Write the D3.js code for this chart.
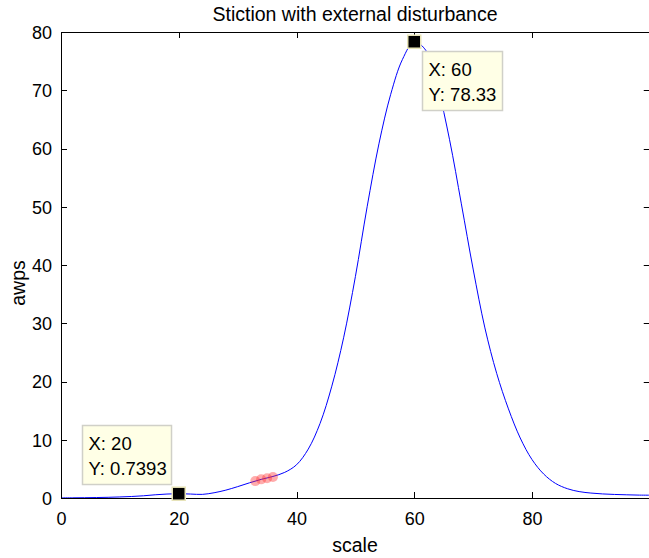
<!DOCTYPE html>
<html>
<head>
<meta charset="utf-8">
<script src="https://cdn.jsdelivr.net/npm/d3@7"></script>
<style>
  html, body { margin: 0; padding: 0; background: #fff; }
  svg { display: block; font-family: "Liberation Sans", Arial, Helvetica, sans-serif; }
</style>
</head>
<body>
<svg id="chart" width="649" height="558"></svg>
<script>
// ---- data ----
const scaleX = [0,2,4,6,8,10,12,14,16,18,20,22,24,26,28,30,32,34,36,38,40,42,44,46,48,50,52,54,56,58,60,62,64,66,68,70,72,74,76,78,80,82,84,86,88,90,92,94,96,98,100];
const awps   = [0.02,0.03,0.05,0.08,0.12,0.18,0.26,0.38,0.55,0.68,0.7393,0.68,0.62,0.9,1.35,1.95,2.6,3.2,3.7,4.4,5.7,8.4,12.8,19.2,27.5,38.0,50.0,60.8,69.3,75.3,78.33,76.8,70.5,61.5,50.5,39.3,29.2,21.4,15.3,10.3,6.6,4.1,2.5,1.6,1.1,0.85,0.7,0.61,0.55,0.5,0.48];
const highlightX = [33,34,35,36];
const highlightY = [2.9,3.2,3.4,3.6];
const tipX = [20,60];
const tipY = [0.7393,78.33];
const tipLabels = [["X: 20","Y: 0.7393"],["X: 60","Y: 78.33"]];
const xTicks = [0,20,40,60,80];
const yTicks = [0,10,20,30,40,50,60,70,80];
const title = "Stiction with external disturbance";
const xLabel = "scale";
const yLabel = "awps";

// ---- layout ----
const L = 61, R = 649.75, T = 32, B = 498;
const svg = d3.select("#chart");
const x = d3.scaleLinear().domain([0,100]).range([L,R]);
const y = d3.scaleLinear().domain([0,80]).range([B,T]);
const fs = 18;

// clip
svg.append("defs").append("clipPath").attr("id","clip")
  .append("rect").attr("x",L).attr("y",T).attr("width",R-L).attr("height",B-T);

// curve
const line = d3.line().x((d,i)=>x(scaleX[i])).y(d=>y(d)).curve(d3.curveCatmullRom.alpha(0.5));
svg.append("path").datum(awps).attr("d",line)
  .attr("fill","none").attr("stroke","#0000ff").attr("stroke-width",1)
  .attr("clip-path","url(#clip)");

// highlighted points
svg.append("g").selectAll("circle").data(highlightX).join("circle")
  .attr("cx",d=>x(d)).attr("cy",(d,i)=>y(highlightY[i])).attr("r",5)
  .attr("fill","#ff3030").attr("fill-opacity",0.4).attr("stroke","none");

// axes
const tickLen = 6;
const gx = svg.append("g").attr("transform",`translate(0,${B})`)
  .call(d3.axisBottom(x).tickValues(xTicks).tickSize(0).tickPadding(14).tickFormat(d3.format("d")));
const gy = svg.append("g").attr("transform",`translate(${L},0)`)
  .call(d3.axisLeft(y).tickValues(yTicks).tickSize(0).tickPadding(9).tickFormat(d3.format("d")));
[gx,gy].forEach(g=>{
  g.select(".domain").remove();
  g.selectAll("text").attr("font-size",fs).attr("fill","#000")
   .attr("font-family","'Liberation Sans', Arial, sans-serif");
});
gx.selectAll("text").attr("dy","0.71em");
gy.selectAll("text").attr("dy","0.36em");

// inward ticks
const tk = svg.append("g").attr("stroke","#000").attr("stroke-width",1);
xTicks.forEach(v=>{
  const px = Math.round(x(v))+0.5;
  tk.append("line").attr("x1",px).attr("x2",px).attr("y1",B).attr("y2",B-tickLen);
  tk.append("line").attr("x1",px).attr("x2",px).attr("y1",T).attr("y2",T+tickLen);
});
yTicks.forEach(v=>{
  const py = Math.round(y(v))+0.5;
  tk.append("line").attr("x1",L).attr("x2",L+tickLen).attr("y1",py).attr("y2",py);
  tk.append("line").attr("x1",R).attr("x2",R-tickLen).attr("y1",py).attr("y2",py);
});
// box
svg.append("rect").attr("x",L+0.5).attr("y",T+0.5).attr("width",R-L).attr("height",B-T)
  .attr("fill","none").attr("stroke","#000").attr("stroke-width",1);

// title & labels
svg.append("text").attr("x",355).attr("y",21).attr("text-anchor","middle")
  .attr("font-size",19.5).attr("fill","#000").text(title);
svg.append("text").attr("x",355).attr("y",552).attr("text-anchor","middle")
  .attr("font-size",19.5).attr("fill","#000").text(xLabel);
svg.append("text").attr("transform",`translate(25,283) rotate(-90)`)
  .attr("text-anchor","middle").attr("font-size",19.5).attr("fill","#000").text(yLabel);

// data tips
const boxOff = [[-97,-69],[8,9]]; // box offset relative to marker center (left, top)
const boxSize = [[89,59],[80,59]];
tipX.forEach((tx,i)=>{
  const cx = x(tx), cy = y(tipY[i]);
  const bx = Math.round(cx + boxOff[i][0]) + 0.5, by = Math.round(cy + boxOff[i][1]) + 0.5;
  const g = svg.append("g");
  g.append("rect").attr("x",bx).attr("y",by).attr("width",boxSize[i][0]).attr("height",boxSize[i][1])
    .attr("fill","#ffffe6").attr("stroke","#d0d0c8").attr("stroke-width",1.5);
  tipLabels[i].forEach((t,j)=>{
    g.append("text").attr("x",bx+6).attr("y",by+24+j*25).attr("font-size",18.5).attr("fill","#000").text(t);
  });
  svg.append("rect").attr("x",cx-6.5).attr("y",cy-6.5).attr("width",13).attr("height",13)
    .attr("fill","#000").attr("stroke","#e8e4b8").attr("stroke-width",1.5);
});
</script>
</body>
</html>
